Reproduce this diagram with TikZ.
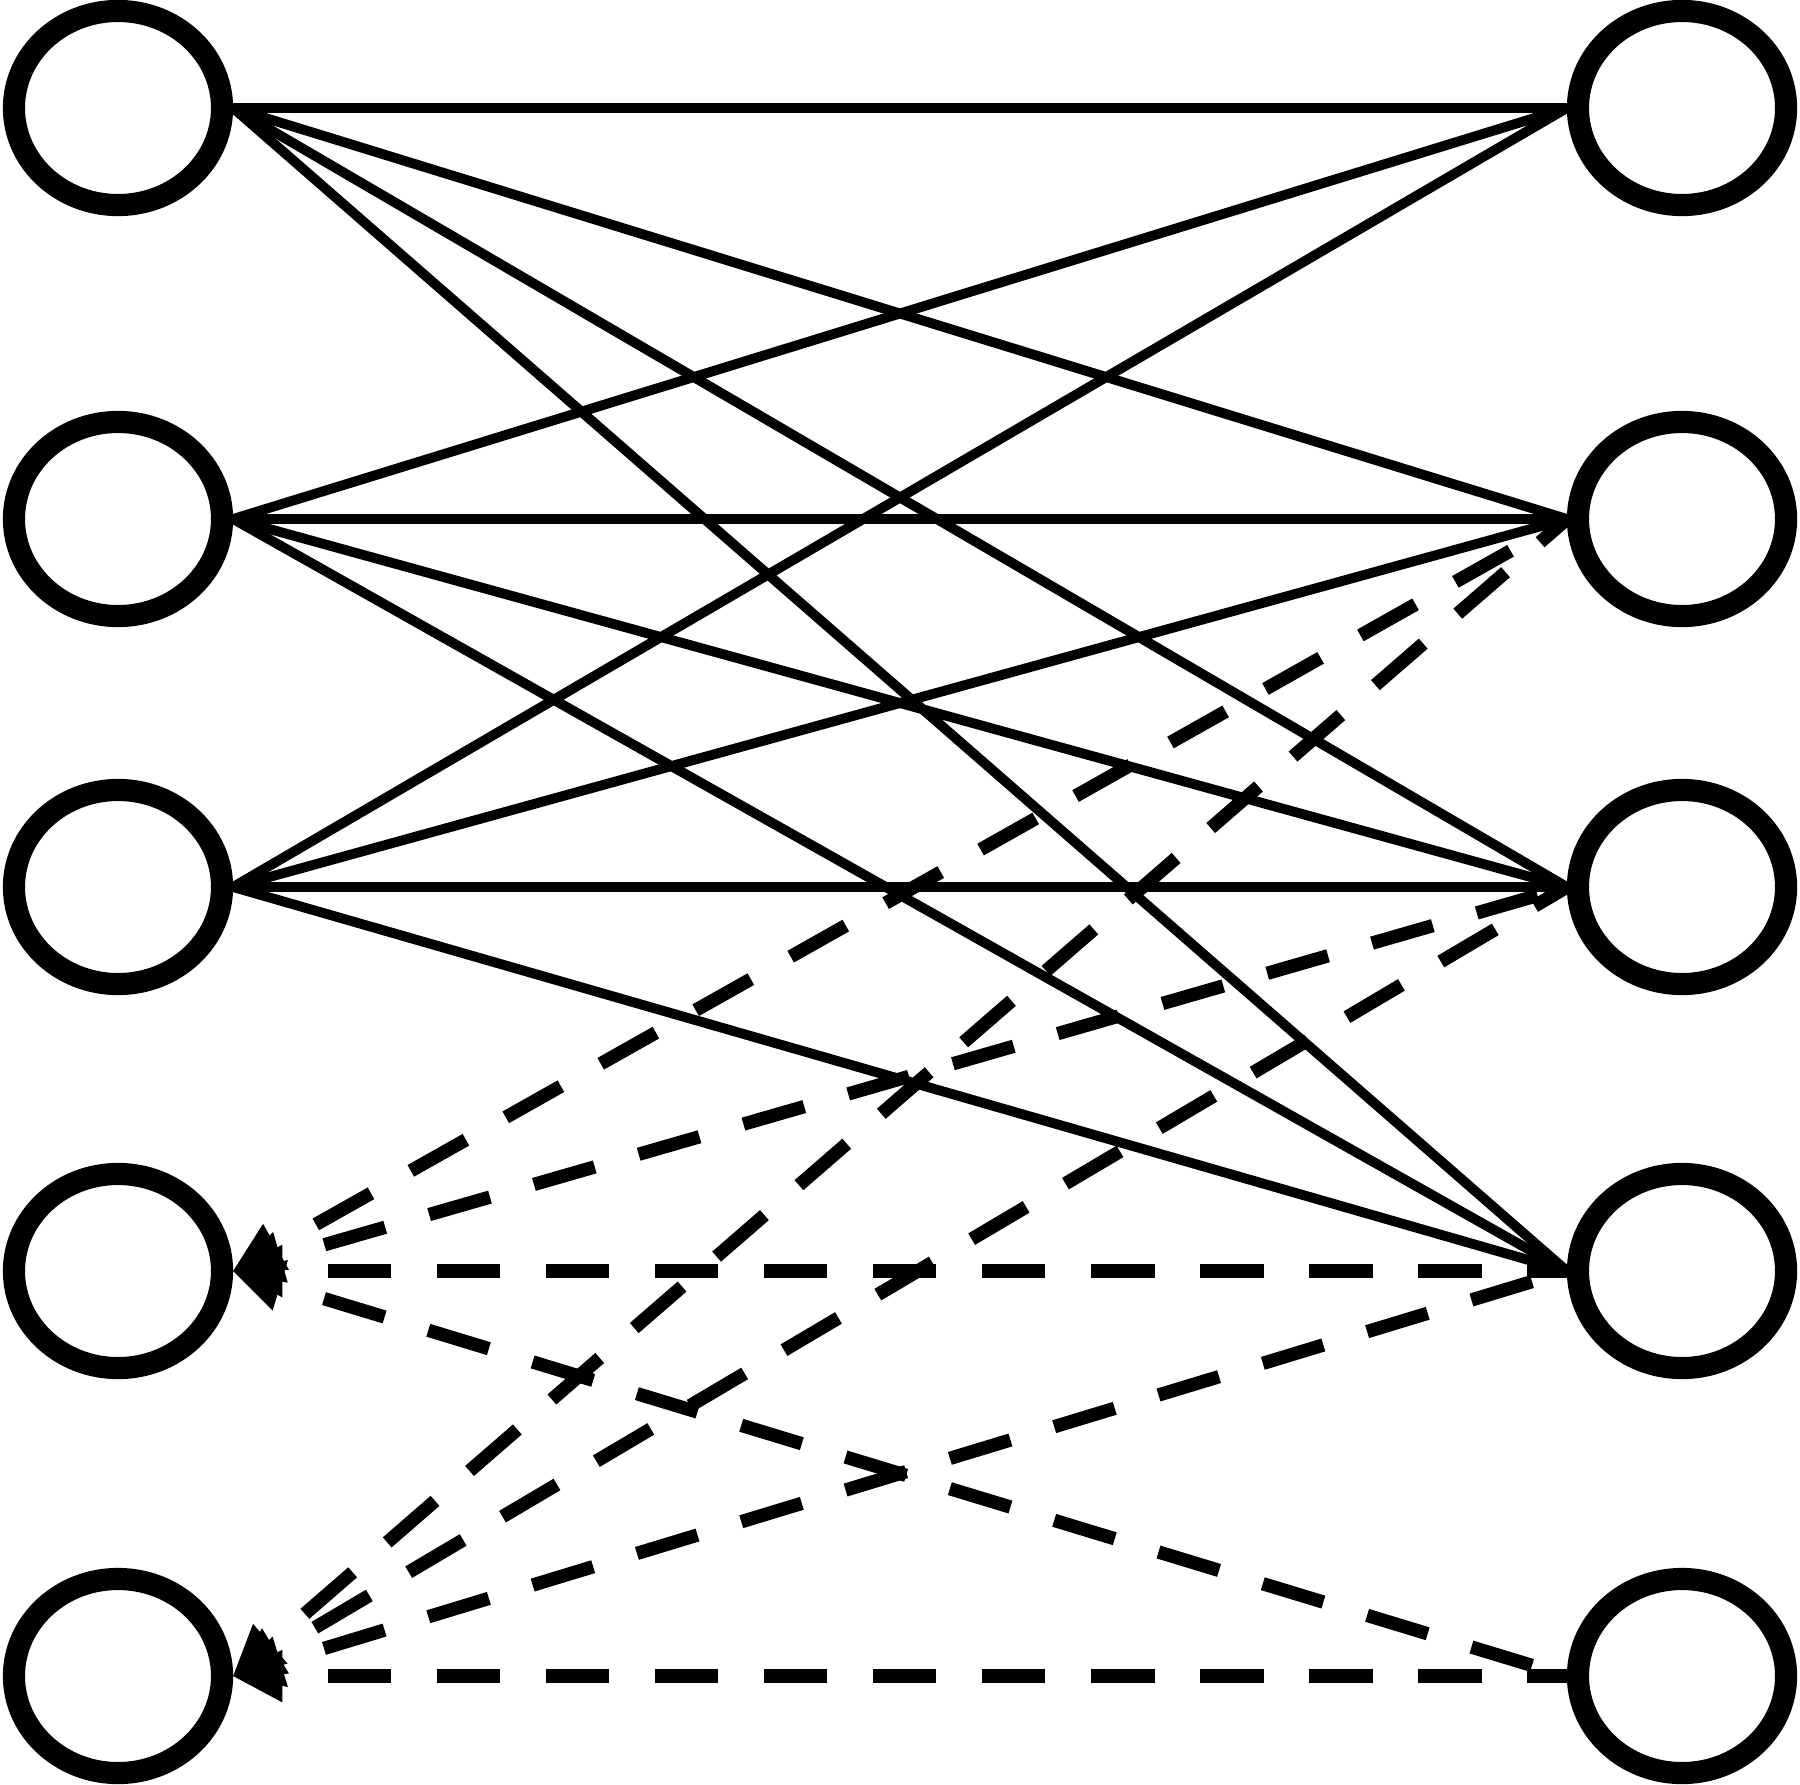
\documentclass[tikz,border=0pt]{standalone}
\usetikzlibrary{shapes.geometric,arrows.meta}
\begin{document}
\begin{tikzpicture}[x=0.01cm,y=-0.01cm,
  vertex/.style={ellipse,draw,line width=6.3pt,minimum width=2.08cm,minimum height=1.94cm,inner sep=0pt},
  solidedge/.style={line width=2.8pt},
  dashedge/.style={line width=3.8pt,dash pattern=on 18pt off 13pt,dash phase=18pt,
    {Triangle[length=14pt,width=15pt,line width=0pt]}-}]
\useasboundingbox (0,0) rectangle (1800,1784);
\node[vertex] (L1) at (118,108) {};
\node[vertex] (L2) at (118,519) {};
\node[vertex] (L3) at (118,887) {};
\node[vertex] (L4) at (118,1271) {};
\node[vertex] (L5) at (118,1676) {};
\node[vertex] (R1) at (1682,108) {};
\node[vertex] (R2) at (1682,519) {};
\node[vertex] (R3) at (1682,887) {};
\node[vertex] (R4) at (1682,1271) {};
\node[vertex] (R5) at (1682,1676) {};
\foreach \l in {L1,L2,L3}{
  \foreach \r in {R1,R2,R3,R4}{
    \draw[solidedge] (\l.east) -- (\r.west);
  }
}
\foreach \l in {L4,L5}{
  \foreach \r in {R2,R3,R4,R5}{
    \draw[dashedge] (\l.east) -- (\r.west);
  }
}
\end{tikzpicture}
\end{document}
